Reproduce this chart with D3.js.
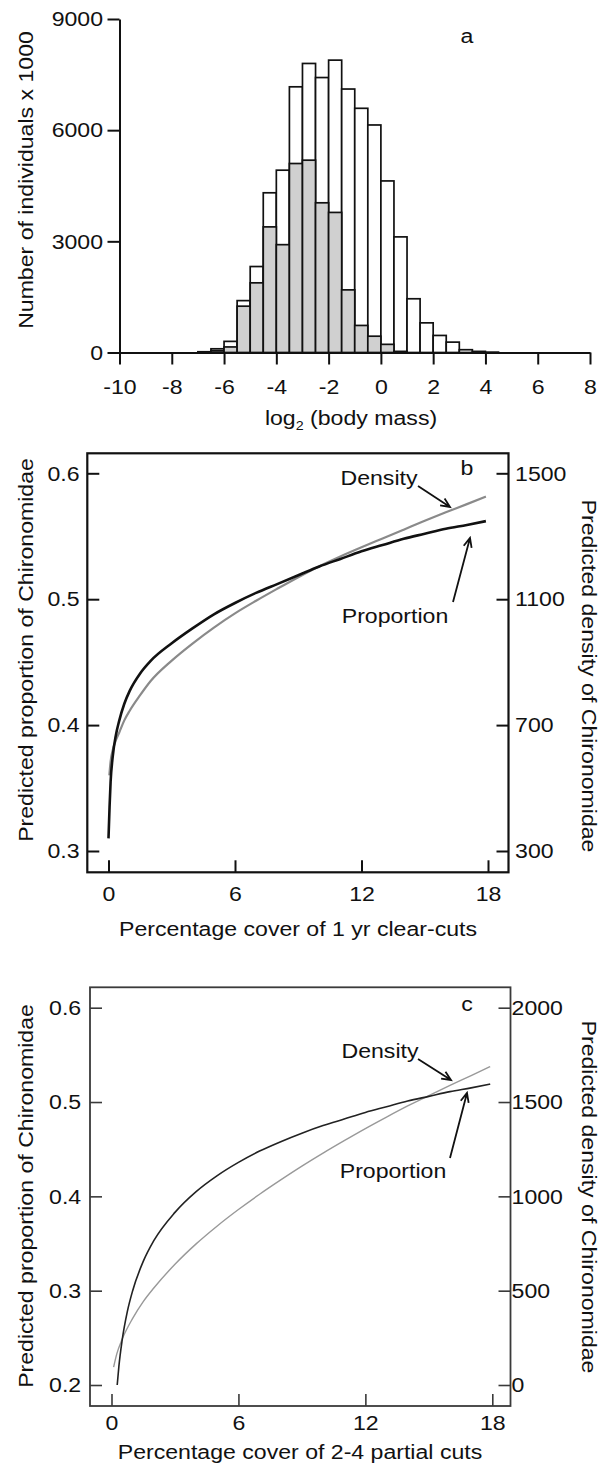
<!DOCTYPE html>
<html><head><meta charset="utf-8">
<script src="https://cdn.jsdelivr.net/npm/d3@7"></script>
<style>
body{margin:0;background:#fff}
svg{display:block}
text{font-family:"Liberation Sans",Arial,sans-serif;fill:#111}
</style>
</head><body><svg id="chart" width="600" height="1469"></svg>
<script>
// ---------- Panel a: histogram (log2 body mass) ----------
const binStarts = [-7,-6.5,-6,-5.5,-5,-4.5,-4,-3.5,-3,-2.5,-2,-1.5,-1,-0.5,0,0.5,1,1.5,2,2.5,3,3.5,4];
const binWidth = 0.5;
const totalCounts  = [20,100,300,1400,2320,4310,4920,7170,7800,7420,7890,7110,6590,6140,4630,3120,1450,800,460,280,75,30,10];
const subsetCounts = [10,50,150,1250,1880,3390,2910,5100,5190,4040,3780,1690,730,440,220,30,0,0,0,0,0,0,0];
const histXTicks = [-10,-8,-6,-4,-2,0,2,4,6,8];
const histYTicks = [0,3000,6000,9000];

// ---------- Panel b: 1 yr clear-cuts ----------
const coverB = [0,0.05,0.1,0.2,0.35,0.5,0.75,1,1.5,2,3,4,5,6,7,8,9,10,11,12,13,14,15,16,17,17.9];
const propB  = [0.310,0.335,0.355,0.375,0.392,0.403,0.417,0.427,0.441,0.451,0.465,0.477,0.488,0.497,0.505,0.512,0.519,0.526,0.532,0.538,0.543,0.548,0.552,0.556,0.559,0.562];
const coverBDens = [0.04,0.1,0.2,0.35,0.5,0.75,1,1.5,2,3,4,5,6,7,8,9,10,11,12,13,14,15,16,17,17.9];
const densB  = [540,585,620,652,675,715,745,795,840,905,960,1010,1055,1095,1133,1170,1205,1236,1265,1293,1321,1349,1376,1402,1426];
const bXTicks = [0,6,12,18];
const bPropTicks = [0.3,0.4,0.5,0.6];
const bDensTicks = [300,700,1100,1500];

// ---------- Panel c: 2-4 partial cuts ----------
const coverCProp = [0.27,0.35,0.5,0.75,1,1.5,2,3,4,5,6,7,8,9,10,11,12,13,14,15,16,17,17.9];
const propC      = [0.200,0.220,0.247,0.278,0.300,0.331,0.353,0.383,0.405,0.422,0.436,0.448,0.458,0.467,0.475,0.482,0.489,0.495,0.501,0.506,0.511,0.515,0.519];
const coverCDens = [0.1,0.25,0.5,1,1.5,2,3,4,5,6,7,8,9,10,11,12,13,14,15,16,17,17.9];
const densC      = [95,165,242,353,442,514,640,748,843,930,1011,1087,1160,1229,1295,1359,1420,1479,1534,1588,1640,1688];
const cXTicks = [0,6,12,18];
const cPropTicks = [0.2,0.3,0.4,0.5,0.6];
const cDensTicks = [0,500,1000,1500,2000];

const svg = d3.select('#chart');
svg.append('rect').attr('width',600).attr('height',1469).attr('fill','#fff');
const FS = 21, SX = 1.1;

function styleAxis(g, sw, col){
  g.attr('font-size', FS).attr('font-family','"Liberation Sans",Arial,sans-serif').attr('color', col||'#111');
  g.selectAll('line,path').attr('stroke-width', sw);
  g.selectAll('text').attr('transform', `scale(${SX},1)`).style('fill','#111');
}
function label(x, y, s, opt={}){
  const t = svg.append('text')
    .attr('transform', `translate(${x},${y}) rotate(${opt.rotate||0}) scale(${SX},1)`)
    .attr('text-anchor', opt.anchor||'middle')
    .attr('font-size', opt.size||FS);
  t.text(s);
  return t;
}
function arrow(x1,y1,x2,y2){
  const a = Math.atan2(y2-y1, x2-x1), L = 10, w = 0.42;
  svg.append('path')
    .attr('d', `M${x1},${y1}L${x2},${y2}M${x2-L*Math.cos(a-w)},${y2-L*Math.sin(a-w)}L${x2},${y2}L${x2-L*Math.cos(a+w)},${y2-L*Math.sin(a+w)}`)
    .attr('fill','none').attr('stroke','#111').attr('stroke-width',1.8);
}

// ================= Panel a =================
const xa = d3.scaleLinear().domain([-10,8]).range([119.5,590]);
const ya = d3.scaleLinear().domain([0,9000]).range([352.5,19]);
const ga = svg.append('g');
ga.selectAll('rect.tot').data(binStarts).join('rect').attr('class','tot')
  .attr('x', d => xa(d)).attr('width', d => xa(d+binWidth)-xa(d))
  .attr('y', (d,i) => ya(totalCounts[i])).attr('height', (d,i) => ya(0)-ya(totalCounts[i]))
  .attr('fill','#fff').attr('stroke','#111').attr('stroke-width',1.7);
ga.selectAll('rect.sub').data(binStarts.filter((d,i)=>subsetCounts[i]>0)).join('rect').attr('class','sub')
  .attr('x', d => xa(d)).attr('width', d => xa(d+binWidth)-xa(d))
  .attr('y', d => ya(subsetCounts[binStarts.indexOf(d)]))
  .attr('height', d => ya(0)-ya(subsetCounts[binStarts.indexOf(d)]))
  .attr('fill','#d0d0d0').attr('stroke','#111').attr('stroke-width',1.7);

const axAx = svg.append('g').attr('transform','translate(0,352.5)')
  .call(d3.axisBottom(xa).tickValues(histXTicks).tickSize(12).tickSizeOuter(0).tickPadding(15).tickFormat(d=>String(d)));
styleAxis(axAx, 2);
const axAy = svg.append('g').attr('transform','translate(119.5,0)')
  .call(d3.axisLeft(ya).tickValues(histYTicks).tickSize(12).tickSizeOuter(0).tickPadding(3).tickFormat(d=>String(d)));
styleAxis(axAy, 2);

label(467, 43, 'a');
const xt = label(351, 425, '');
xt.append('tspan').text('log');
xt.append('tspan').attr('font-size',13).attr('dy',5).text('2');
xt.append('tspan').attr('dy',-5).text(' (body mass)');
label(33, 180, 'Number of individuals x 1000', {rotate:-90});

// ================= Panel b =================
const xb = d3.scaleLinear().domain([0,18]).range([108.5,488]);
const ybL = d3.scaleLinear().domain([0.3,0.6]).range([851,473.3]);
const ybR = d3.scaleLinear().domain([300,1500]).range([851,473.3]);
const boxB = {l:87.3, r:508.5, t:453.3, b:872.3};

const bxAxis = svg.append('g').attr('transform',`translate(0,${boxB.b})`)
  .call(d3.axisBottom(xb).tickValues(bXTicks).tickSize(-12).tickSizeOuter(0).tickPadding(14));
bxAxis.select('.domain').remove(); styleAxis(bxAxis, 2);
const byL = svg.append('g').attr('transform',`translate(${boxB.l},0)`)
  .call(d3.axisLeft(ybL).tickValues(bPropTicks).tickSize(-12).tickSizeOuter(0).tickPadding(7).tickFormat(d3.format('.1f')));
byL.select('.domain').remove(); styleAxis(byL, 2);
const byR = svg.append('g').attr('transform',`translate(${boxB.r},0)`)
  .call(d3.axisRight(ybR).tickValues(bDensTicks).tickSize(-12).tickSizeOuter(0).tickPadding(6).tickFormat(d=>String(d)));
byR.select('.domain').remove(); styleAxis(byR, 2);
svg.append('rect').attr('x',boxB.l).attr('y',boxB.t).attr('width',boxB.r-boxB.l).attr('height',boxB.b-boxB.t)
  .attr('fill','none').attr('stroke','#111').attr('stroke-width',2.2);

svg.append('path').datum(d3.zip(coverBDens, densB))
  .attr('d', d3.line().x(d=>xb(d[0])).y(d=>ybR(d[1])).curve(d3.curveMonotoneX))
  .attr('fill','none').attr('stroke','#8a8a8a').attr('stroke-width',2.2);
svg.append('path').datum(d3.zip(coverB, propB))
  .attr('d', d3.line().x(d=>xb(d[0])).y(d=>ybL(d[1])).curve(d3.curveMonotoneX))
  .attr('fill','none').attr('stroke','#111').attr('stroke-width',2.6);

label(467, 475, 'b');
label(379, 485, 'Density');
arrow(418, 486, 450, 507);
label(395, 623, 'Proportion');
arrow(453, 602, 470, 538);
label(298, 936, 'Percentage cover of 1 yr clear-cuts');
label(33, 650, 'Predicted proportion of Chironomidae', {rotate:-90});
label(582, 676, 'Predicted density of Chironomidae', {rotate:90});

// ================= Panel c =================
const xc = d3.scaleLinear().domain([0,18]).range([111.5,492.3]);
const ycL = d3.scaleLinear().domain([0.2,0.6]).range([1385,1007.7]);
const ycR = d3.scaleLinear().domain([0,2000]).range([1385,1007.7]);
const boxC = {l:90, r:510.5, t:987.3, b:1406};
const cCol = '#3a3a3a';

const cxAxis = svg.append('g').attr('transform',`translate(0,${boxC.b})`)
  .call(d3.axisBottom(xc).tickValues(cXTicks).tickSize(-12).tickSizeOuter(0).tickPadding(9));
cxAxis.select('.domain').remove(); styleAxis(cxAxis, 1.6, cCol);
const cyL = svg.append('g').attr('transform',`translate(${boxC.l},0)`)
  .call(d3.axisLeft(ycL).tickValues(cPropTicks).tickSize(-12).tickSizeOuter(0).tickPadding(8).tickFormat(d3.format('.1f')));
cyL.select('.domain').remove(); styleAxis(cyL, 1.6, cCol);
const cyR = svg.append('g').attr('transform',`translate(${boxC.r},0)`)
  .call(d3.axisRight(ycR).tickValues(cDensTicks).tickSize(-12).tickSizeOuter(0).tickPadding(1).tickFormat(d=>String(d)));
cyR.select('.domain').remove(); styleAxis(cyR, 1.6, cCol);
svg.append('rect').attr('x',boxC.l).attr('y',boxC.t).attr('width',boxC.r-boxC.l).attr('height',boxC.b-boxC.t)
  .attr('fill','none').attr('stroke',cCol).attr('stroke-width',1.8);

svg.append('path').datum(d3.zip(coverCDens, densC))
  .attr('d', d3.line().x(d=>xc(d[0])).y(d=>ycR(d[1])).curve(d3.curveMonotoneX))
  .attr('fill','none').attr('stroke','#999').attr('stroke-width',1.4);
svg.append('path').datum(d3.zip(coverCProp, propC))
  .attr('d', d3.line().x(d=>xc(d[0])).y(d=>ycL(d[1])).curve(d3.curveMonotoneX))
  .attr('fill','none').attr('stroke','#222').attr('stroke-width',1.6);

label(467, 1011, 'c');
label(380, 1058, 'Density');
arrow(418, 1059, 451, 1080);
label(393, 1178, 'Proportion');
arrow(450, 1158, 467, 1093);
label(300, 1459, 'Percentage cover of 2-4 partial cuts');
label(33, 1196, 'Predicted proportion of Chironomidae', {rotate:-90});
label(582, 1197, 'Predicted density of Chironomidae', {rotate:90});
</script>
</body></html>
